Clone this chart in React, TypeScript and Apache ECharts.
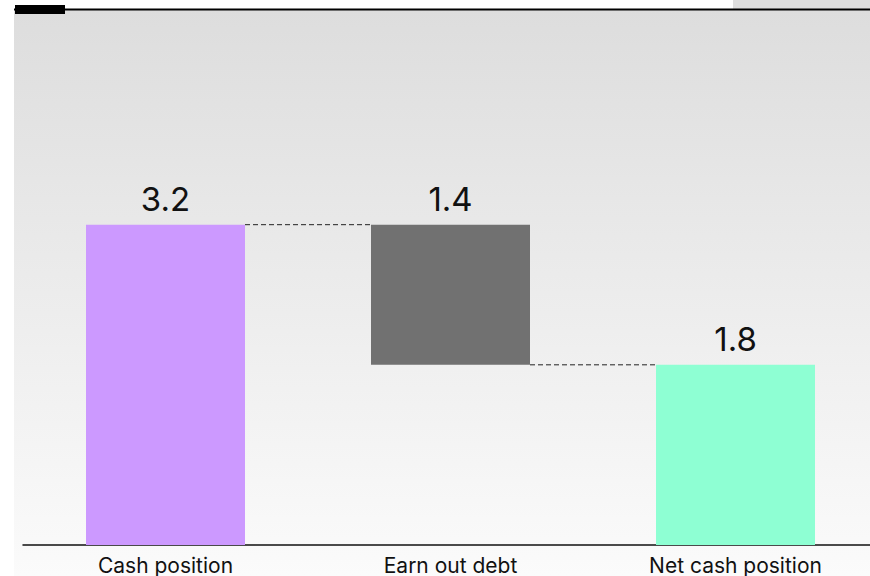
import React, { useEffect, useRef } from "react";
import * as echarts from "echarts";

const categories = ["Cash position", "Earn out debt", "Net cash position"];
const barValues = [3.2, 1.4, 1.8];
const baseValues = [0, 1.8, 0];
const barColors = ["#cc99ff", "#717171", "#8effd3"];
const valueLabels = ["3.2", "1.4", "1.8"];
// connectors: [from category index, level]
const connectors = [
  [0, 3.2],
  [1, 1.8],
];

export default function App() {
  const ref = useRef<HTMLDivElement>(null);
  useEffect(() => {
    if (!ref.current) return;
    const chart = echarts.init(ref.current, undefined, { renderer: "svg" });
    const font = "Inter, 'Noto Sans', sans-serif";
    chart.setOption({
      animation: false,
      graphic: [
        {
          type: "rect",
          z: -10,
          shape: { x: 14, y: 10, width: 864, height: 566 },
          style: {
            fill: new echarts.graphic.LinearGradient(0, 0, 0, 1, [
              { offset: 0, color: "#dddddd" },
              { offset: 1, color: "#fbfbfb" },
            ]),
          },
        },
        { type: "rect", z: -10, shape: { x: 733, y: 0, width: 145, height: 9 }, style: { fill: "#dedede" } },
        { type: "line", z: 10, shape: { x1: 14, y1: 9.5, x2: 878, y2: 9.5 }, style: { stroke: "#000", lineWidth: 2 } },
        { type: "rect", z: 10, shape: { x: 15, y: 5, width: 50, height: 9 }, style: { fill: "#000" } },
      ],
      grid: { left: 23, right: 0, top: 44.5, bottom: 31, containLabel: false },
      xAxis: {
        type: "category",
        data: categories,
        axisLine: { lineStyle: { color: "#111", width: 1.5 } },
        axisTick: { show: false },
        axisLabel: { fontFamily: font, fontSize: 21, color: "#111", margin: 10 },
      },
      yAxis: { type: "value", min: 0, max: 5, show: false, splitLine: { show: false } },
      series: [
        {
          type: "bar",
          stack: "w",
          data: baseValues,
          itemStyle: { color: "transparent" },
          barWidth: 159,
          silent: true,
        },
        {
          type: "bar",
          stack: "w",
          barWidth: 159,
          data: barValues.map((v, i) => ({ value: v, itemStyle: { color: barColors[i] } })),
          label: {
            show: true,
            position: "top",
            distance: 9,
            fontFamily: font,
            fontSize: 33,
            color: "#111",
            formatter: (p: any) => valueLabels[p.dataIndex],
          },
        },
        {
          type: "custom",
          data: connectors,
          z: 5,
          renderItem: (params: any, api: any) => {
            const i = api.value(0);
            const lvl = api.value(1);
            const p1 = api.coord([i, lvl]);
            const p2 = api.coord([i + 1, lvl]);
            const half = 159 / 2;
            return {
              type: "line",
              shape: { x1: p1[0] + half, y1: p1[1], x2: p2[0] - half, y2: p2[1] },
              style: { stroke: "#222", lineWidth: 1, lineDash: [5, 3] },
            };
          },
        },
      ],
    });
    return () => chart.dispose();
  }, []);
  return (
    <div style={{ position: "absolute", left: 0, top: 0, width: 870, height: 576, overflow: "hidden" }}>
      <div ref={ref} style={{ width: 878, height: 576 }} />
    </div>
  );
}
